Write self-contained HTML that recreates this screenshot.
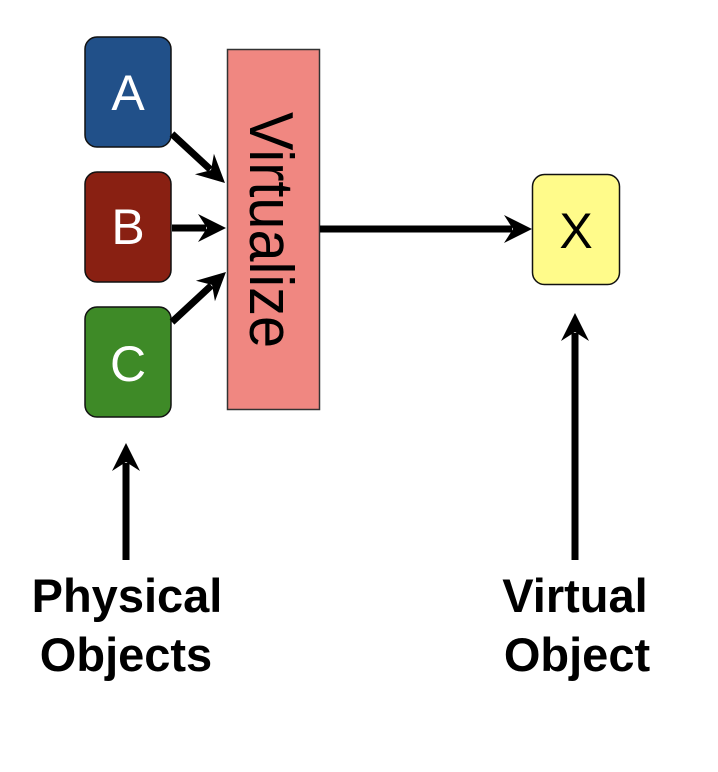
<!DOCTYPE html>
<html>
<head>
<meta charset="utf-8">
<style>
  html,body{margin:0;padding:0;background:#fff;}
  svg{display:block;}
</style>
</head>
<body>
<svg width="718" height="772" viewBox="0 0 718 772" xmlns="http://www.w3.org/2000/svg">
  <defs>
    <marker id="ah" markerUnits="userSpaceOnUse" markerWidth="60" markerHeight="60" refX="0" refY="0" viewBox="-30 -30 60 60" orient="auto" overflow="visible">
      <path d="M20,0 L-8,-14 L1,0 L-8,14 Z" fill="#000"/>
    </marker>
  </defs>
  <rect x="0" y="0" width="718" height="772" fill="#fff"/>

  <!-- Boxes A B C -->
  <rect x="85" y="37" width="86" height="110" rx="12" ry="12" fill="#215089" stroke="#111" stroke-width="1.5"/>
  <rect x="85" y="172" width="86" height="110" rx="12" ry="12" fill="#892012" stroke="#111" stroke-width="1.5"/>
  <rect x="85" y="307" width="86" height="110" rx="12" ry="12" fill="#3E8A27" stroke="#111" stroke-width="1.5"/>
  <g font-family="Liberation Sans, Arial, sans-serif" font-size="50" fill="#fff" text-anchor="middle">
    <text x="128" y="110">A</text>
    <text x="128" y="244">B</text>
    <text x="128" y="381">C</text>
  </g>

  <!-- Virtualize -->
  <rect x="227.5" y="49.5" width="92" height="360" fill="#F08781" stroke="#333" stroke-width="1.5"/>
  <text transform="translate(250,112) rotate(90)" font-family="Liberation Sans, Arial, sans-serif" font-size="62" fill="#000" textLength="236" lengthAdjust="spacingAndGlyphs">Virtualize</text>

  <!-- X box -->
  <rect x="532.5" y="174.5" width="87" height="110" rx="12" ry="12" fill="#FFFB8A" stroke="#111" stroke-width="1.5"/>
  <text x="576" y="248" font-family="Liberation Sans, Arial, sans-serif" font-size="50" fill="#000" text-anchor="middle">X</text>

  <!-- Arrows -->
  <g stroke="#000" stroke-width="7" fill="none" marker-end="url(#ah)">
    <line x1="172" y1="134" x2="210.3" y2="169.4"/>
    <line x1="172" y1="228" x2="206" y2="228"/>
    <line x1="172" y1="322" x2="211.3" y2="285.6"/>
    <line x1="320" y1="229" x2="512" y2="229"/>
    <line x1="126" y1="560" x2="126" y2="463"/>
    <line x1="575" y1="560" x2="575" y2="333"/>
  </g>

  <!-- Labels -->
  <g font-family="Liberation Sans, Arial, sans-serif" font-size="47" font-weight="bold" fill="#000" text-anchor="middle">
    <text x="127" y="612">Physical</text>
    <text x="126" y="671">Objects</text>
    <text x="575" y="612">Virtual</text>
    <text x="577" y="671">Object</text>
  </g>
</svg>
</body>
</html>
